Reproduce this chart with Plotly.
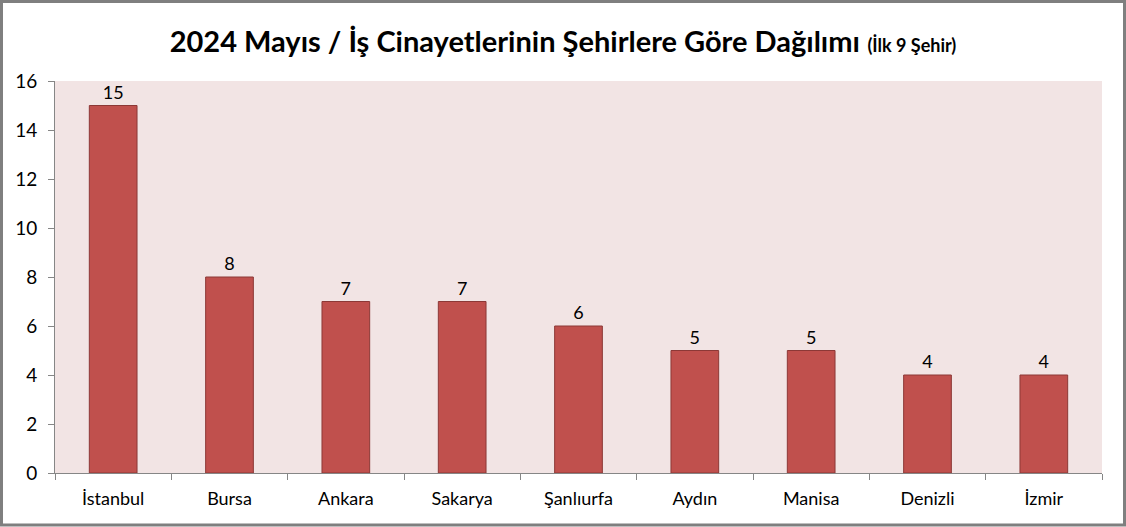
import plotly.graph_objects as go

cities = ["İstanbul", "Bursa", "Ankara", "Sakarya", "Şanlıurfa", "Aydın", "Manisa", "Denizli", "İzmir"]
counts = [15, 8, 7, 7, 6, 5, 5, 4, 4]
y_ticks = [0, 2, 4, 6, 8, 10, 12, 14, 16]

W, H = 1126, 527
ml, mr, mt, mb = 55, 24, 81, 54
pw, ph = W - ml - mr, H - mt - mb

FONT = "Lato"

fig = go.Figure()
fig.add_trace(go.Bar(
    x=cities, y=counts,
    marker=dict(color="#C0504D", line=dict(color="#8C3836", width=1)),
    text=[str(c) for c in counts], textposition="outside",
    textfont=dict(family=FONT, size=18, color="#000000"),
    cliponaxis=False,
    width=0.41,
))

def px_x(p):
    return (p - ml) / pw

def px_y(p):
    return 1 - (p - mt) / ph

fig.update_layout(
    width=W, height=H,
    margin=dict(l=ml, r=mr, t=mt, b=mb, pad=0),
    paper_bgcolor="#FFFFFF",
    plot_bgcolor="#F2E4E4",
    showlegend=False,
    title=dict(
        text="<b>2024 Mayıs / İş Cinayetlerinin Şehirlere Göre Dağılımı</b> <b><span style='font-size:18px'>(İlk 9 Şehir)</span></b>",
        x=0.5, xanchor="center", y=1 - 42 / H, yanchor="middle",
        font=dict(family=FONT, size=29, color="#000000"),
    ),
    xaxis=dict(
        type="category",
        showgrid=False,
        showline=True, linecolor="#868686", linewidth=1,
        ticks="outside", tickson="boundaries", ticklen=6, tickcolor="#868686",
        ticklabelstandoff=9,
        tickfont=dict(family=FONT, size=18, color="#000000"),
        range=[-0.5, len(cities) - 0.5],
    ),
    yaxis=dict(
        range=[0, 16], tickvals=y_ticks,
        showgrid=False, zeroline=False,
        showline=True, linecolor="#868686", linewidth=1,
        ticks="outside", ticklen=6, tickcolor="#868686",
        ticklabelstandoff=7,
        tickfont=dict(family=FONT, size=19, color="#000000"),
    ),
    shapes=[dict(
        type="rect", xref="paper", yref="paper",
        x0=px_x(1.5), x1=px_x(1124.5), y0=px_y(1.5), y1=px_y(525),
        line=dict(color="#7F7F7F", width=3), fillcolor="rgba(0,0,0,0)", layer="above",
    )],
)

fig.write_html(
    "out.html",
    config={"displayModeBar": False},
    post_script="document.body.style.margin='0';document.body.style.padding='0';",
)
